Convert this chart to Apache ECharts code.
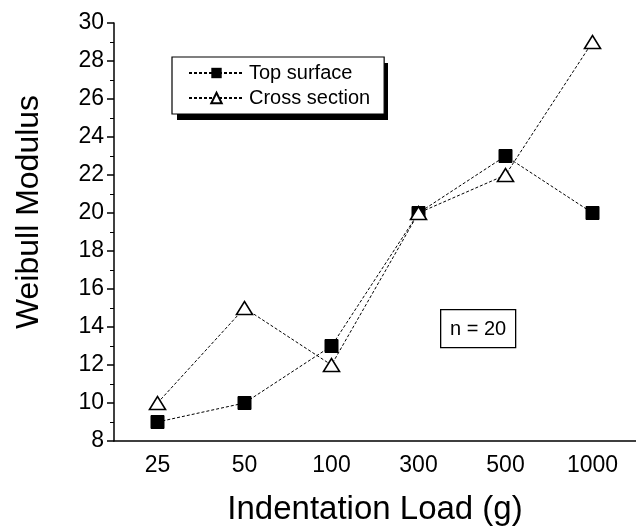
<!DOCTYPE html>
<html><head><meta charset="utf-8">
<script src="https://cdn.jsdelivr.net/npm/echarts@6/dist/echarts.min.js"></script>
<style>html,body{margin:0;padding:0;background:#fff}#c{width:636px;height:531px}</style>
</head><body><div id="c"></div>
<script>
const categories = ['25', '50', '100', '300', '500', '1000'];
const topSurface = [9, 10, 13, 20, 23, 20];
const crossSection = [10, 15, 12, 20, 22, 29];
const yTicks = [8, 10, 12, 14, 16, 18, 20, 22, 24, 26, 28, 30];

const FONT = '"Liberation Sans", Arial, sans-serif';
const chart = echarts.init(document.getElementById('c'));
chart.setOption({
  backgroundColor: '#fff',
  animation: false,
  grid: { left: 114, right: 0, top: 23, bottom: 89 },
  legend: {
    left: 172, top: 57, z: 10,
    orient: 'vertical',
    data: ['Top surface', 'Cross section'],
    backgroundColor: '#fff',
    borderColor: '#000', borderWidth: 1.2,
    padding: [6, 14, 6, 16],
    itemGap: 5, itemWidth: 55, itemHeight: 13,
    textStyle: { fontFamily: FONT, fontSize: 20, color: '#000' }
  },
  xAxis: {
    type: 'category', data: categories, boundaryGap: true,
    axisLine: { lineStyle: { color: '#000', width: 1.5 } },
    axisTick: { alignWithLabel: true, length: 7, lineStyle: { color: '#000', width: 1.5 } },
    axisLabel: { fontFamily: FONT, fontSize: 23, color: '#000', margin: 13 },
    name: 'Indentation Load (g)', nameLocation: 'middle', nameGap: 52,
    nameTextStyle: { fontFamily: FONT, fontSize: 33, color: '#000' }
  },
  yAxis: {
    type: 'value', min: yTicks[0], max: yTicks[yTicks.length - 1], interval: 2,
    splitLine: { show: false },
    axisLine: { show: true, lineStyle: { color: '#000', width: 1.5 } },
    axisTick: { show: true, length: 7, lineStyle: { color: '#000', width: 1.5 } },
    minorTick: { show: true, splitNumber: 2, length: 4, lineStyle: { color: '#000', width: 1 } },
    axisLabel: { fontFamily: FONT, fontSize: 23, color: '#000', margin: 10 }
  },
  series: [
    {
      name: 'Top surface', type: 'line', data: topSurface,
      symbol: 'rect', symbolSize: 13,
      itemStyle: { color: '#000', borderColor: '#000' },
      lineStyle: { color: '#000', width: 1, type: [3, 2] }
    },
    {
      name: 'Cross section', type: 'line', data: crossSection,
      symbol: 'triangle', symbolSize: [16, 13],
      itemStyle: { color: '#fff', borderColor: '#000', borderWidth: 1.6 },
      lineStyle: { color: '#000', width: 1, type: [3, 2] }
    }
  ],
  graphic: [
    { type: 'rect', z: 1, shape: { x: 177, y: 63, width: 211, height: 57 },
      style: { fill: '#000' } },
    { type: 'text', x: 29, y: 212, rotation: Math.PI / 2,
      style: { text: 'Weibull Modulus', font: '32px ' + FONT, fill: '#000', align: 'center', verticalAlign: 'middle' } },
    {
      type: 'group', left: 440, top: 309,
      children: [
        { type: 'rect', shape: { x: 0, y: 0, width: 75, height: 38 },
          style: { fill: '#fff', stroke: '#000', lineWidth: 1.3 } },
        { type: 'text', x: 37.5, y: 19.5,
          style: { text: 'n = 20', font: '20px ' + FONT, fill: '#000', align: 'center', verticalAlign: 'middle' } }
      ]
    }
  ]
});
</script></body></html>
